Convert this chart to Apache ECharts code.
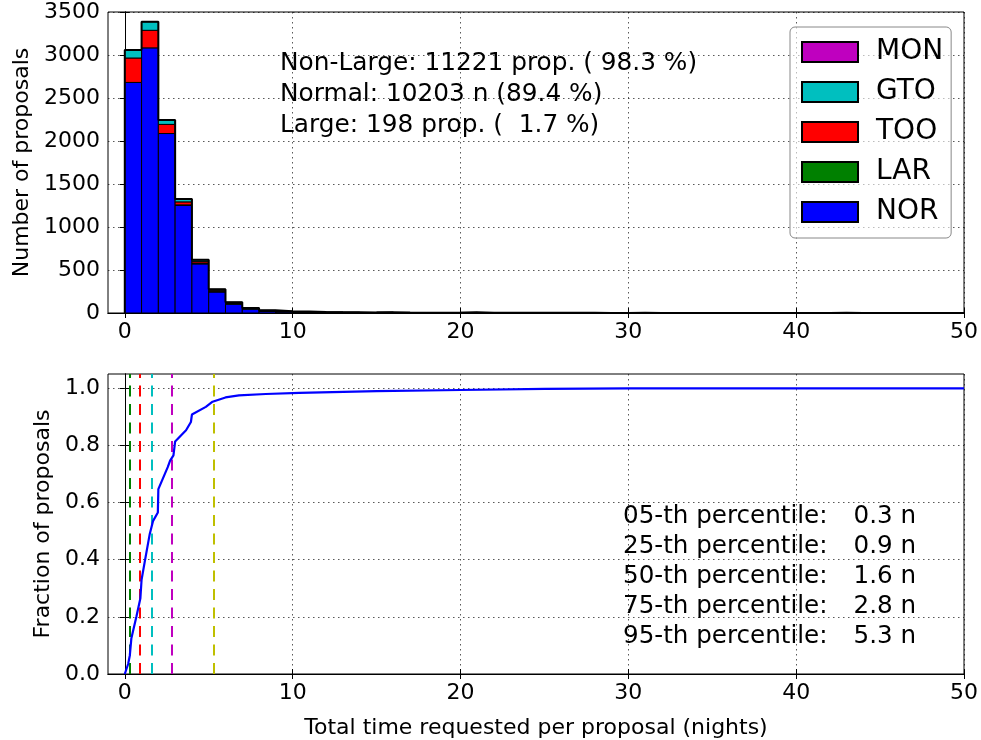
<!DOCTYPE html>
<html>
<head>
<meta charset="utf-8">
<script src="https://cdn.jsdelivr.net/npm/echarts@6/dist/echarts.min.js"></script>
<style>
  html, body { margin: 0; background: #fff; }
  #chart { width: 981px; height: 740px; }
</style>
</head>
<body>
<div id="chart"></div>
<script>
// histogram bins: 1 night wide, left edges 0..49
const binLeft = [0,1,2,3,4,5,6,7,8,9,10,11,12,13,14,15,16,17,18,19,20,21,22,23,24,
  25,26,27,28,29,30,31,32,33,34,35,36,37,38,39,40,41,42,43,44,45,46,47,48,49];

// counts per bin and proposal type (stacked bottom -> top)
const NOR = [2681,3083,2087,1252,571,244,102,45,20,12, 10,8,6,5,4,7,3,3,2,2,
  5,2,2,1,3,1,1,1,0,1, 1,0,0,1,0,0,1,0,0,0, 0,0,1,0,0,0,0,0,0,0];
const LAR = [0,0,0,5,10,10,8,6,5,4, 4,3,3,2,2,3,2,1,1,1,
  3,1,1,1,1,1,1,1,1,0, 1,0,0,0,0,0,0,0,0,0, 0,0,1,0,0,0,0,0,0,0];
const TOO = [284,204,106,35,20,12,8,4,3,2, 1,1,1,1,0,0,0,0,0,0,
  0,0,0,0,0,0,0,0,0,0, 0,0,0,0,0,0,0,0,0,0, 0,0,0,0,0,0,0,0,0,0];
const GTO = [94,99,51,35,17,10,8,4,3,2, 1,0,0,0,0,0,0,0,0,0,
  0,0,0,0,0,0,0,0,0,0, 0,0,0,0,0,0,0,0,0,0, 0,0,0,0,0,0,0,0,0,0];
const MON = [0,0,0,0,0,0,0,0,0,0, 0,0,0,0,0,0,0,0,0,0,
  0,0,0,0,0,0,0,0,0,0, 0,0,0,0,0,0,0,0,0,0, 0,0,0,0,0,0,0,0,0,0];

const typeNames = ['NOR', 'LAR', 'TOO', 'GTO', 'MON'];
const typeColors = ['#0000ff', '#008000', '#ff0000', '#00bfbf', '#bf00bf'];

// cumulative fraction of proposals vs requested time
const cdfX = [0, 0.2, 0.3, 0.39, 0.69, 0.93, 0.99, 1.0, 1.18, 1.48, 1.68, 1.97, 2.0, 2.47, 2.56,
  2.7, 2.9, 2.98, 3.0, 3.65, 3.94, 3.98, 4.0, 4.83, 5.23, 6.0, 6.8, 8.4, 10.4, 15, 20, 25, 30, 50];
const cdfY = [0, 0.035, 0.065, 0.124, 0.2, 0.265, 0.27, 0.33, 0.39, 0.488, 0.535, 0.565, 0.647, 0.712, 0.724,
  0.747, 0.765, 0.77, 0.814, 0.853, 0.882, 0.885, 0.908, 0.935, 0.953, 0.968, 0.975, 0.98, 0.984, 0.99, 0.994, 0.998, 0.9995, 1.0];

// percentiles
const pctNames = ['05-th percentile:', '25-th percentile:', '50-th percentile:', '75-th percentile:', '95-th percentile:'];
const pctValues = [0.3, 0.9, 1.6, 2.8, 5.3];
const pctColors = ['#008000', '#ff0000', '#00bfbf', '#bf00bf', '#bfbf00'];

const statLines = ['Non-Large: 11221 prop. ( 98.3 %)', 'Normal: 10203 n (89.4 %)', 'Large: 198 prop. (  1.7 %)'];

const xTicks = [0, 10, 20, 30, 40, 50];
const yTicksTop = [0, 500, 1000, 1500, 2000, 2500, 3000, 3500];
const yTicksBot = [0, 0.2, 0.4, 0.6, 0.8, 1.0];

const FONT = 'DejaVu Sans';
const dotted = { color: 'rgba(0,0,0,0.65)', width: 1, type: [1.5, 3.5] };

// build stacked rows [left, low, high] for each type
const stackRows = [];
const base = binLeft.map(() => 0);
[NOR, LAR, TOO, GTO, MON].forEach((arr) => {
  stackRows.push(binLeft.map((x, i) => {
    const lo = base[i];
    base[i] += arr[i];
    return [x, lo, base[i]];
  }));
});
const totals = base.slice();
const outline = [[0, 0]].concat(binLeft.map((x, i) => [x, totals[i]])).concat([[50, totals[49]]]);

function renderBar(params, api) {
  const lo = api.value(1), hi = api.value(2);
  if (hi <= lo) return;
  const x0 = api.value(0);
  const p0 = api.coord([x0, hi]);
  const p1 = api.coord([x0 + 1, lo]);
  return {
    type: 'rect',
    shape: { x: p0[0], y: p0[1], width: p1[0] - p0[0], height: p1[1] - p0[1] },
    style: { fill: api.visual('color'), stroke: '#000', lineWidth: 1 }
  };
}

function xAxisDef(grid, pos, showLabels, name) {
  return {
    type: 'value', gridIndex: grid, position: pos, min: -1, max: 50,
    axisLine: { lineStyle: { color: '#000', width: 1 } },
    axisTick: { inside: true, length: 5, customValues: xTicks, lineStyle: { color: '#000' } },
    axisLabel: { show: showLabels, customValues: xTicks, color: '#000', fontSize: 22, fontFamily: FONT, margin: 8 },
    splitLine: { show: pos === 'bottom', lineStyle: dotted },
    name: name || '', nameLocation: 'middle', nameGap: 43,
    nameTextStyle: { color: '#000', fontSize: 22, fontFamily: FONT }
  };
}
function yAxisDef(grid, pos, ticks, max, fmt, name, gap) {
  return {
    type: 'value', gridIndex: grid, position: pos, min: 0, max: max,
    axisLine: { show: true, lineStyle: { color: '#000', width: 1 } },
    axisTick: { show: true, inside: true, length: 5, customValues: ticks, lineStyle: { color: '#000' } },
    axisLabel: { show: pos === 'left', customValues: ticks, formatter: fmt, color: '#000', fontSize: 22, fontFamily: FONT, margin: 8 },
    splitLine: { show: pos === 'left', lineStyle: dotted },
    name: name || '', nameLocation: 'middle', nameGap: gap || 0,
    nameTextStyle: { color: '#000', fontSize: 22, fontFamily: FONT }
  };
}

const series = stackRows.map((rows, k) => ({
  name: typeNames[k], type: 'custom', xAxisIndex: 0, yAxisIndex: 0,
  renderItem: renderBar, data: rows, encode: { x: 0, y: [1, 2] },
  itemStyle: { color: typeColors[k], borderColor: '#000', borderWidth: 1 },
  z: 3
}));
series.push({
  name: 'total', type: 'line', xAxisIndex: 0, yAxisIndex: 0, data: outline,
  step: 'end', symbol: 'none', lineStyle: { color: '#000', width: 2 }, z: 4, silent: true
});
series.push({
  name: 'percentiles', type: 'line', xAxisIndex: 1, yAxisIndex: 1, data: [],
  markLine: {
    silent: true, symbol: ['none', 'none'], label: { show: false },
    data: pctValues.map((v, i) => ({ xAxis: v, lineStyle: { color: pctColors[i], width: 2, type: [11, 7.5] } }))
  },
  z: 3
});
series.push({
  name: 'cdf', type: 'line', xAxisIndex: 1, yAxisIndex: 1,
  data: cdfX.map((x, i) => [x, cdfY[i]]),
  symbol: 'none', lineStyle: { color: '#0000ff', width: 2.2 }, z: 5, silent: true
});

const chart = echarts.init(document.getElementById('chart'));
chart.setOption({
  animation: false,
  backgroundColor: '#fff',
  grid: [
    { left: 108, right: 16, top: 12, height: 301, show: true, borderColor: '#000', borderWidth: 1 },
    { left: 108, right: 16, top: 374, height: 300, show: true, borderColor: '#000', borderWidth: 1 }
  ],
  xAxis: [
    xAxisDef(0, 'bottom', true),
    xAxisDef(1, 'bottom', true, 'Total time requested per proposal (nights)'),
    xAxisDef(0, 'top', false),
    xAxisDef(1, 'top', false)
  ],
  yAxis: [
    yAxisDef(0, 'left', yTicksTop, 3500, v => String(v), 'Number of proposals', 75),
    yAxisDef(1, 'left', yTicksBot, 1.05, v => v.toFixed(1), 'Fraction of proposals', 53),
    yAxisDef(0, 'right', yTicksTop, 3500),
    yAxisDef(1, 'right', yTicksBot, 1.05)
  ],
  legend: {
    data: ['MON', 'GTO', 'TOO', 'LAR', 'NOR'],
    orient: 'vertical', left: 790, top: 27,
    icon: 'rect', itemWidth: 56, itemHeight: 20, itemGap: 12,
    padding: [11, 8, 12, 11],
    backgroundColor: 'rgba(255,255,255,0.6)', borderColor: '#888', borderWidth: 1, borderRadius: 5,
    textStyle: { color: '#000', fontSize: 28, fontFamily: FONT, padding: [0, 0, 0, 13] }
  },
  graphic: [
    { type: 'text', x: 280, y: 48, silent: true,
      style: { text: statLines.join('\n'), font: '24.8px "DejaVu Sans"', fill: '#000', lineHeight: 31, verticalAlign: 'top' } },
    { type: 'text', x: 623, y: 502, silent: true,
      style: { text: pctNames.join('\n'), font: '24.6px "DejaVu Sans"', fill: '#000', lineHeight: 29.9, verticalAlign: 'top' } },
    { type: 'text', x: 916, y: 502, silent: true,
      style: { text: pctValues.map(v => v.toFixed(1) + ' n').join('\n'), font: '24.6px "DejaVu Sans"', fill: '#000', lineHeight: 29.9, align: 'right', verticalAlign: 'top' } }
  ],
  series: series
});
</script>
</body>
</html>
